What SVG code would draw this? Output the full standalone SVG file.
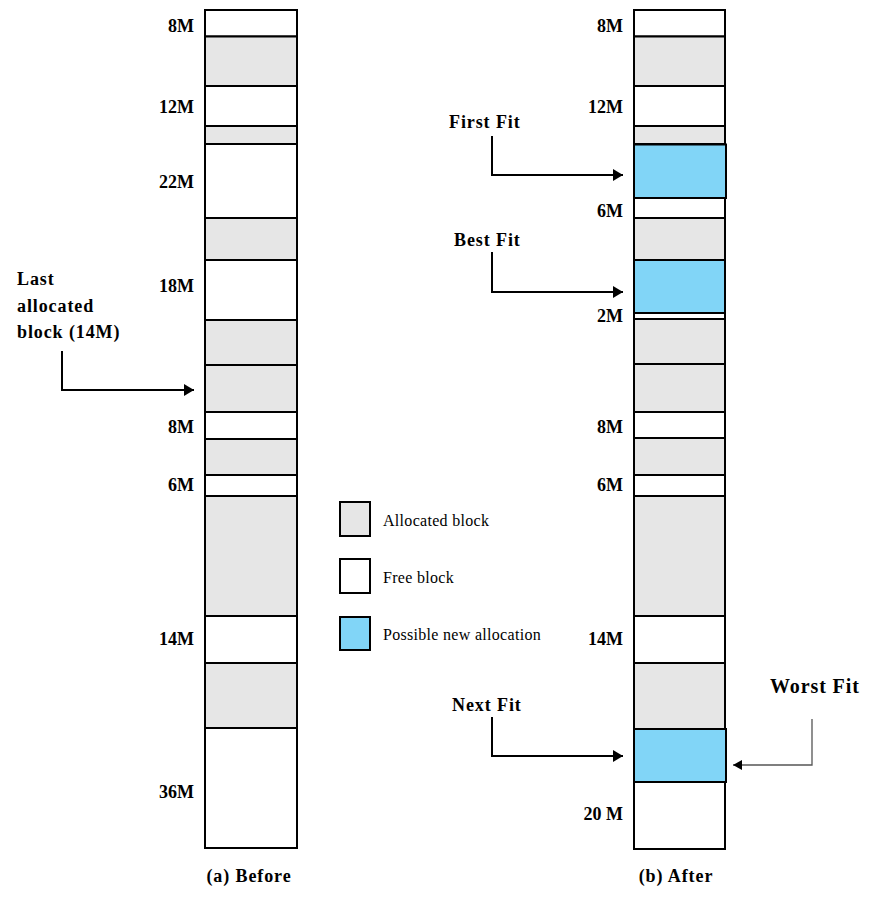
<svg xmlns="http://www.w3.org/2000/svg" width="876" height="903" viewBox="0 0 876 903">
<style>
.blk{stroke:#000;stroke-width:2}
.a{fill:#e6e6e6}
.f{fill:#fff}
.n{fill:#81d5f7}
.sz{font-family:"Liberation Serif",serif;font-weight:bold;font-size:18px;fill:#000;text-anchor:end}
.lb{font-family:"Liberation Serif",serif;font-weight:bold;font-size:18px;fill:#000;letter-spacing:0.9px}
.lg{font-family:"Liberation Serif",serif;font-size:16px;fill:#000;letter-spacing:0.3px}
.con{fill:none;stroke:#000;stroke-width:2}
.con2{fill:none;stroke:#555;stroke-width:1.3}
</style>
<defs>
<marker id="ah" markerUnits="userSpaceOnUse" markerWidth="12" markerHeight="14" refX="10" refY="6" orient="auto">
<path d="M0,0 L10,6 L0,12 Z" fill="#000"/>
</marker>
<marker id="ah2" markerUnits="userSpaceOnUse" markerWidth="12" markerHeight="12" refX="9" refY="5" orient="auto">
<path d="M0,0 L9,5 L0,10 Z" fill="#000"/>
</marker>
</defs>
<rect width="876" height="903" fill="#fff"/>

<g id="before">
<rect class="blk f" x="205" y="10" width="92" height="26.5"/>
<rect class="blk a" x="205" y="36.5" width="92" height="49.5"/>
<rect class="blk f" x="205" y="86" width="92" height="40"/>
<rect class="blk a" x="205" y="126" width="92" height="18"/>
<rect class="blk f" x="205" y="144" width="92" height="74"/>
<rect class="blk a" x="205" y="218" width="92" height="42"/>
<rect class="blk f" x="205" y="260" width="92" height="60"/>
<rect class="blk a" x="205" y="320" width="92" height="45"/>
<rect class="blk a" x="205" y="365" width="92" height="47"/>
<rect class="blk f" x="205" y="412" width="92" height="27"/>
<rect class="blk a" x="205" y="439" width="92" height="36"/>
<rect class="blk f" x="205" y="475" width="92" height="21"/>
<rect class="blk a" x="205" y="496" width="92" height="120"/>
<rect class="blk f" x="205" y="616" width="92" height="47"/>
<rect class="blk a" x="205" y="663" width="92" height="65"/>
<rect class="blk f" x="205" y="728" width="92" height="120"/>
<text class="sz" x="194" y="32">8M</text>
<text class="sz" x="194" y="113">12M</text>
<text class="sz" x="194" y="188">22M</text>
<text class="sz" x="194" y="292">18M</text>
<text class="sz" x="194" y="433">8M</text>
<text class="sz" x="194" y="491">6M</text>
<text class="sz" x="194" y="645">14M</text>
<text class="sz" x="194" y="798">36M</text>
<text class="lb" x="249" y="882" text-anchor="middle">(a) Before</text>
</g>

<g id="after">
<rect class="blk f" x="634" y="10" width="91" height="26.5"/>
<rect class="blk a" x="634" y="36.5" width="91" height="49.5"/>
<rect class="blk f" x="634" y="86" width="91" height="40"/>
<rect class="blk a" x="634" y="126" width="91" height="18"/>
<rect class="blk f" x="634" y="198" width="91" height="20"/>
<rect class="blk a" x="634" y="218" width="91" height="42"/>
<rect class="blk f" x="634" y="313" width="91" height="6"/>
<rect class="blk a" x="634" y="319" width="91" height="45"/>
<rect class="blk a" x="634" y="364" width="91" height="48"/>
<rect class="blk f" x="634" y="412" width="91" height="26"/>
<rect class="blk a" x="634" y="438" width="91" height="37"/>
<rect class="blk f" x="634" y="475" width="91" height="21"/>
<rect class="blk a" x="634" y="496" width="91" height="120"/>
<rect class="blk f" x="634" y="616" width="91" height="47"/>
<rect class="blk a" x="634" y="663" width="91" height="66"/>
<rect class="blk f" x="634" y="782" width="91" height="67"/>
<rect class="blk n" x="634" y="144.5" width="92" height="53.5"/>
<rect class="blk n" x="634" y="260" width="91" height="53"/>
<rect class="blk n" x="634" y="729" width="92" height="53"/>
<text class="sz" x="623" y="32">8M</text>
<text class="sz" x="623" y="113">12M</text>
<text class="sz" x="623" y="217">6M</text>
<text class="sz" x="623" y="322">2M</text>
<text class="sz" x="623" y="433">8M</text>
<text class="sz" x="623" y="491">6M</text>
<text class="sz" x="623" y="645">14M</text>
<text class="sz" x="623" y="820">20 M</text>
<text class="lb" x="676" y="882" text-anchor="middle">(b) After</text>
</g>

<g id="labels">
<text class="lb" x="17" y="285">Last</text>
<text class="lb" x="17" y="312">allocated</text>
<text class="lb" x="17" y="338">block (14M)</text>
<text class="lb" x="449" y="128">First Fit</text>
<text class="lb" x="454" y="246">Best Fit</text>
<text class="lb" x="452" y="711">Next Fit</text>
<text class="lb" x="770" y="693" style="font-size:20px">Worst Fit</text>
</g>

<g id="legend">
<rect class="blk a" x="340" y="502" width="30" height="34"/>
<rect class="blk f" x="340" y="559" width="30" height="34"/>
<rect class="blk n" x="340" y="617" width="30" height="33"/>
<text class="lg" x="383" y="526">Allocated block</text>
<text class="lg" x="383" y="583">Free block</text>
<text class="lg" x="383" y="640">Possible new allocation</text>
</g>

<g id="connectors">
<path class="con" d="M62,351 V390 H194" marker-end="url(#ah)"/>
<path class="con" d="M492,136 V175 H623" marker-end="url(#ah)"/>
<path class="con" d="M492,252 V292 H623" marker-end="url(#ah)"/>
<path class="con" d="M492,717 V756 H623" marker-end="url(#ah)"/>
<path class="con2" d="M812,719 V765 H733" marker-end="url(#ah2)"/>
</g>
</svg>
